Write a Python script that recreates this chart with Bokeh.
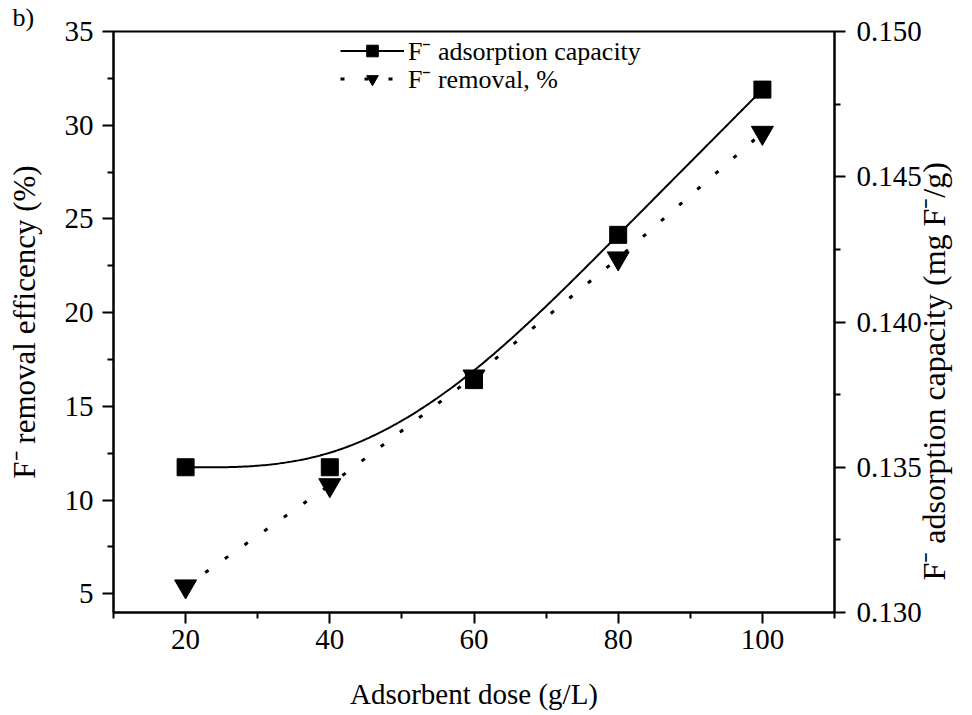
import math
import numpy as np
from bokeh.plotting import figure
from bokeh.models import (Range1d, LinearAxis, FixedTicker, Legend, LegendItem,
                          PrintfTickFormatter)
from bokeh.embed import file_html
from bokeh.resources import INLINE

# Adsorbent dose (g/L)
dose = [20, 40, 60, 80, 100]
# F- adsorption capacity (mg F-/g), right axis
capacity = [0.135, 0.135, 0.138, 0.143, 0.148]
# F- removal (%), left axis
removal = [5.4, 10.8, 16.6, 22.9, 29.6]

x_ticks = [20, 40, 60, 80, 100]
x_minor = [10, 30, 50, 70, 90, 110]
left_ticks = [5, 10, 15, 20, 25, 30, 35]
left_minor = [7.5, 12.5, 17.5, 22.5, 27.5, 32.5]
right_ticks = [0.130, 0.135, 0.140, 0.145, 0.150]
right_minor = [0.1325, 0.1375, 0.1425, 0.1475]

FONT = "'Liberation Serif'"
TICK_SIZE = "29px"


def bspline(xs, ys, n=60):
    """Uniform cubic B-spline using the points as control points (ends clamped)."""
    xs = np.asarray(xs, float)
    ys = np.asarray(ys, float)
    px = np.r_[xs[0], xs[0], xs, xs[-1], xs[-1]]
    py = np.r_[ys[0], ys[0], ys, ys[-1], ys[-1]]
    t = np.linspace(0, 1, n)
    b0 = (1 - t) ** 3 / 6
    b1 = (3 * t ** 3 - 6 * t ** 2 + 4) / 6
    b2 = (-3 * t ** 3 + 3 * t ** 2 + 3 * t + 1) / 6
    b3 = t ** 3 / 6
    cx, cy = [], []
    for i in range(len(px) - 3):
        cx.append(b0 * px[i] + b1 * px[i + 1] + b2 * px[i + 2] + b3 * px[i + 3])
        cy.append(b0 * py[i] + b1 * py[i + 1] + b2 * py[i + 2] + b3 * py[i + 3])
    return np.concatenate(cx), np.concatenate(cy)


p = figure(width=972, height=715, output_backend="svg", toolbar_location=None,
           title="b)",
           x_range=Range1d(10, 110), y_range=Range1d(4, 35),
           min_border_left=113, min_border_right=135,
           min_border_top=31, min_border_bottom=103,
           x_axis_label="Adsorbent dose (g/L)",
           y_axis_label="F\u207b removal efficency (%)")
p.extra_y_ranges = {"cap": Range1d(0.130, 0.150)}
p.grid.visible = False
p.outline_line_color = "black"
p.outline_line_width = 2
p.outline_line_alpha = 1
p.background_fill_color = "white"
p.border_fill_color = "white"

# panel tag "b)" in the top-left corner
p.title.align = "left"
p.title.offset = -101
p.title.standoff = 0
p.title.text_font = FONT
p.title.text_font_size = "26px"
p.title.text_line_height = 1.0
p.title.text_font_style = "normal"
p.title.text_color = "black"

# right axis label reads bottom-to-top, starting near the lower end
right_axis = LinearAxis(y_range_name="cap",
                        axis_label="\u00a0\u00a0\u00a0\u00a0F\u207b adsorption capacity (mg F\u207b/g)")
right_axis.axis_label_orientation = math.pi / 2
right_axis.axis_label_align = "start"
p.add_layout(right_axis, "right")

p.xaxis.ticker = FixedTicker(ticks=x_ticks, minor_ticks=x_minor)
p.yaxis[0].ticker = FixedTicker(ticks=left_ticks, minor_ticks=left_minor)
right_axis.ticker = FixedTicker(ticks=right_ticks, minor_ticks=right_minor)
right_axis.formatter = PrintfTickFormatter(format="%.3f")

for ax in [p.xaxis[0], p.yaxis[0], right_axis]:
    ax.axis_line_width = 2
    ax.major_tick_line_width = 2
    ax.minor_tick_line_width = 2
    ax.major_tick_in = 0
    ax.major_tick_out = 11
    ax.minor_tick_in = 0
    ax.minor_tick_out = 6
    ax.major_label_text_font = FONT
    ax.major_label_text_font_size = TICK_SIZE
    ax.major_label_text_color = "black"
    ax.major_label_text_line_height = 1.0
    ax.axis_label_text_font = FONT
    ax.axis_label_text_font_style = "normal"
    ax.axis_label_text_color = "black"
    ax.axis_label_text_line_height = 1.0

p.xaxis.axis_label_text_font_size = "29px"
p.yaxis[0].axis_label_text_font_size = "31px"
right_axis.axis_label_text_font_size = "32px"

p.xaxis.major_label_standoff = 6
p.xaxis.axis_label_standoff = 26
p.yaxis[0].major_label_standoff = 9
p.yaxis[0].axis_label_standoff = 20
right_axis.major_label_standoff = 11
right_axis.axis_label_standoff = 9

# removal (%) : dotted line with down triangles
r_rem_line = p.line(dose, removal, line_color="black", line_width=3,
                    line_dash="4 20")
r_rem_pts = p.scatter(dose, removal, marker="inverted_triangle", size=22,
                      fill_color="black", line_color="black")

# adsorption capacity : smooth spline with squares
cx, cy = bspline(dose, capacity)
r_cap_line = p.line(cx, cy, y_range_name="cap", line_color="black", line_width=2)
r_cap_pts = p.scatter(dose, capacity, y_range_name="cap", marker="square",
                      size=17, fill_color="black", line_color="black")


def make_legend(item, loc):
    leg = Legend(items=[item], location=loc, orientation="vertical",
                 border_line_alpha=0, background_fill_alpha=0,
                 padding=0, margin=0, spacing=0,
                 glyph_width=64, glyph_height=29, label_standoff=4,
                 label_text_font=FONT, label_text_font_size="26px",
                 label_text_color="black")
    p.add_layout(leg, "center")


make_legend(LegendItem(label="F\u207b adsorption capacity",
                       renderers=[r_cap_line, r_cap_pts]), (227, 544))
make_legend(LegendItem(label="F\u207b removal, %",
                       renderers=[r_rem_line, r_rem_pts]), (227, 516))

open("out.html", "w").write(file_html(p, INLINE))
